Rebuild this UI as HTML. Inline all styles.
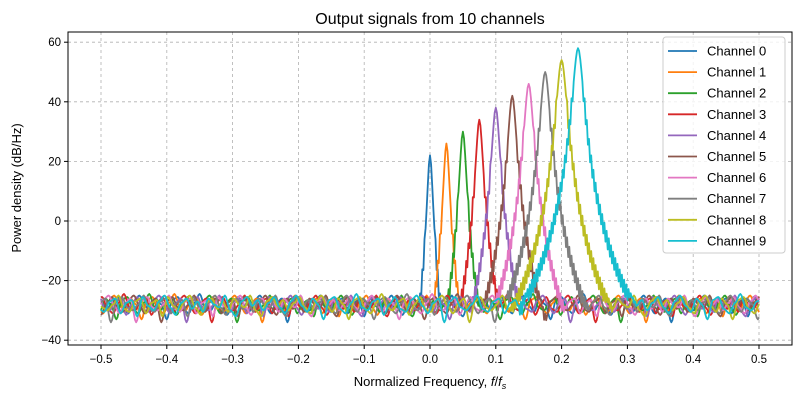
<!DOCTYPE html>
<html><head><meta charset="utf-8"><style>
body{margin:0;background:#fff;}
svg{font-family:"Liberation Sans","DejaVu Sans",sans-serif;}
</style></head><body>
<svg id="chart" width="800" height="400" viewBox="0 0 800 400">
<rect x="0" y="0" width="800" height="400" fill="#fff"/>
<g id="grid"></g>
<g id="series" clip-path="url(#clip)"></g>
<defs><clipPath id="clip"><rect x="68" y="32" width="724" height="313"/></clipPath></defs>
<rect x="68" y="32" width="724" height="313" fill="none" stroke="#000" stroke-width="1"/>
<g id="ticks"></g>
<text x="430" y="24" text-anchor="middle" font-size="16">Output signals from 10 channels</text>
<text x="430" y="386" text-anchor="middle" font-size="13">Normalized Frequency, <tspan font-style="italic">f</tspan>/<tspan font-style="italic">f</tspan><tspan font-size="9" dy="3" font-style="italic">s</tspan></text>
<text transform="translate(21,188) rotate(-90)" text-anchor="middle" font-size="13">Power density (dB/Hz)</text>
<g id="legend"></g>
</svg>
<script>
const channelNames=["Channel 0","Channel 1","Channel 2","Channel 3","Channel 4","Channel 5","Channel 6","Channel 7","Channel 8","Channel 9"];
const centers=[0,0.025,0.05,0.075,0.1,0.125,0.15,0.175,0.2,0.225];
const peaks=[22,26,30,34,38,42,46,50,54,58];
const skirtWidths=[0.0038,0.0042,0.0045,0.0049,0.0053,0.0057,0.006,0.0064,0.0067,0.007];
const floorLevel=-28;
const noise=[1.5,-2,0.5,2.5,-1,-3,1,3,-0.5,-2.5,2,0,-5,1.5,2.5,-1.5,-3,0.5,3.5,-1,-2,1,2,-3.5,0,2.5,-1.5,-2.5,1.5,3,-0.5,-3,0.5,2,-6,1,2.5,-1,-2,0,3,-1.5,-2.5,1,2,-3,0.5,1.5,-4,2.5,-0.5,-2,1,3,-1,-3.5,0.5,2,-1.5,1,-2.5,2,0,-1,3,-2,-4,1,2.5,-0.5];
const xTicks=[-0.5,-0.4,-0.3,-0.2,-0.1,0,0.1,0.2,0.3,0.4,0.5];
const yTicks=[-40,-20,0,20,40,60];
const colors=["#1f77b4","#ff7f0e","#2ca02c","#d62728","#9467bd","#8c564b","#e377c2","#7f7f7f","#bcbd22","#17becf"];
const NS="http://www.w3.org/2000/svg";
const xs=f=>101+(f+0.5)*658;
const ys=v=>221-v*2.98;
function mk(t,a,p){const e=document.createElementNS(NS,t);for(const k in a)e.setAttribute(k,a[k]);p.appendChild(e);return e;}
const grid=document.getElementById('grid'),ticks=document.getElementById('ticks');
xTicks.forEach(t=>{const x=xs(t);
 const g=mk('line',{x1:x,x2:x,y1:32,y2:345,stroke:'#b0b0b0','stroke-dasharray':'3,3','stroke-width':0.8},grid);
 
 mk('line',{x1:x,x2:x,y1:345,y2:349,stroke:'#000'},ticks);
 const l=mk('text',{x:x,y:363,'text-anchor':'middle','font-size':11.5},ticks);
 l.textContent=(t<0?'\u2212':'')+Math.abs(t).toFixed(1);
 });
yTicks.forEach(t=>{const y=ys(t);
 const g=mk('line',{x1:68,x2:792,y1:y,y2:y,stroke:'#b0b0b0','stroke-dasharray':'3,3','stroke-width':0.8},grid);
 
 mk('line',{x1:64,x2:68,y1:y,y2:y,stroke:'#000'},ticks);
 const l=mk('text',{x:61,y:y+4,'text-anchor':'end','font-size':11.5},ticks);
 l.textContent=(t<0?'\u2212':'')+Math.abs(t);
 });
const series=document.getElementById('series');
const N=600, STEP=5;
function nz(k){const a=k/STEP,i0=Math.floor(a),fr=a-i0;
 const v0=noise[i0%noise.length],v1=noise[(i0+1)%noise.length];
 const s=fr*fr*(3-2*fr);return v0+(v1-v0)*s;}
channelNames.forEach((name,c)=>{
 let pts=[];
 for(let i=0;i<=N;i++){
  const f=-0.5+i/N;
  const fl=floorLevel+nz(i+c*23)*1.0;
  const d=Math.abs(f-centers[c]);
  let pk=peaks[c]-40*Math.log10(1+(d/skirtWidths[c])**2);
  if(d>0.007) pk+=(i%2?2.5:-2.5);
  const v=Math.max(fl,pk);
  pts.push(xs(f).toFixed(1)+','+ys(v).toFixed(1));
 }
 const p=mk('polyline',{points:pts.join(' '),fill:'none',stroke:colors[c],'stroke-width':1.8,'stroke-linejoin':'round'},series);
 
 
});
const lg=document.getElementById('legend');
const box=mk('rect',{x:663,y:37,width:122,height:216,rx:3,fill:'#fff','fill-opacity':0.8,stroke:'#ccc'},lg);

channelNames.forEach((name,c)=>{const y=51+c*21.1;
 const e=mk('g',{},lg);
 
 mk('line',{x1:668,x2:697,y1:y,y2:y,stroke:colors[c],'stroke-width':1.8},e);
 const t=mk('text',{x:707,y:y+4.5,'font-size':13},e);t.textContent=name;});
</script>
</body></html>
